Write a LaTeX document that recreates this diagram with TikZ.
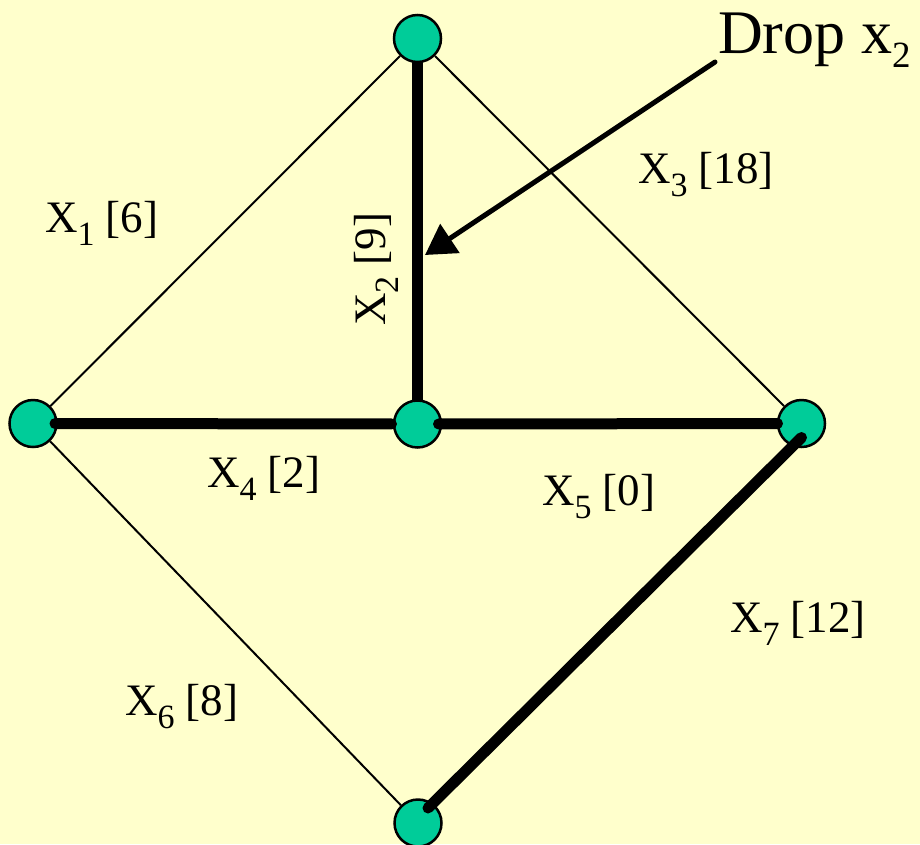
\documentclass[tikz,border=0pt]{standalone}
\usepackage{fontspec}
\setmainfont{Liberation Serif}
\usetikzlibrary{arrows.meta,calc}
\definecolor{bgyellow}{RGB}{255,255,204}
\definecolor{nodefill}{RGB}{0,204,153}
\newcommand\lowsub[1]{\raisebox{-0.29em}{\fontsize{34}{34}\selectfont #1}}
\newcommand\dropsub[1]{\raisebox{-0.24em}{\fontsize{37}{37}\selectfont #1}}
\pgfdeclarelayer{back}
\pgfdeclarelayer{under}
\pgfdeclarelayer{over}
\pgfsetlayers{back,under,main,over}
\tikzset{
  vtx/.style={circle, draw=black, line width=2.5pt, fill=nodefill, minimum size=47pt, inner sep=0pt},
  thinedge/.style={line width=2pt},
  thickedge/.style={line width=11pt, line cap=round},
  lbl/.style={font=\fontsize{45}{54}\selectfont, inner sep=0pt, anchor=base west},
  pointer/.style={line width=5pt, line cap=round, -{Triangle[length=30pt,width=34pt]}}
}
\begin{document}
\begin{tikzpicture}[x=1pt,y=-1pt]
\path[use as bounding box] (0,0) rectangle (920,844);
\clip (0,0) rectangle (920,844);
\begin{pgfonlayer}{back}
\fill[bgyellow] (0,0) rectangle (920,844);
\end{pgfonlayer}
% vertices
\node[vtx] (T) at (417.5,38.5) {};
\node[vtx] (L) at (33,423.5) {};
\node[vtx] (C) at (417.5,424) {};
\node[vtx] (R) at (801.5,423.5) {};
\node[vtx] (B) at (418,823) {};
% edges under the vertices
\begin{pgfonlayer}{under}
\draw[thinedge] (T) -- (L);
\draw[thinedge] (T) -- (R);
\draw[thinedge] (L) -- (B);
\draw[thickedge] (T) -- (C);
\end{pgfonlayer}
% edges over the vertices
\begin{pgfonlayer}{over}
\draw[thickedge, shorten <=22pt, shorten >=26pt] (L.center) -- (C.center);
\draw[thickedge, shorten <=21pt, shorten >=24pt] (C.center) -- (R.center);
\draw[thickedge] ($(R.center)+(0,14)$) -- ($(B.center)+(10,-15)$);
\coordinate (astart) at (715,62);
\coordinate (atip) at (425,255);
\draw[pointer] (astart) -- (atip);
\end{pgfonlayer}
% labels
\node[lbl] (l1) at (45,232) {X\lowsub{1} [6]};
\node[lbl, rotate=90] (l2) at (385,326) {X\lowsub{2} [9]};
\node[lbl] (l3) at (638,183) {X\lowsub{3} [18]};
\node[lbl] (l4) at (207,487) {X\lowsub{4} [2]};
\node[lbl] (l5) at (542,505) {X\lowsub{5} [0]};
\node[lbl] (l6) at (125,715) {X\lowsub{6} [8]};
\node[lbl] (l7) at (730,632) {X\lowsub{7} [12]};
\node[font=\fontsize{62}{70}\selectfont, inner sep=0pt, anchor=base west] (drop) at (718,53) {Drop x\dropsub{2}};
\end{tikzpicture}
\end{document}
